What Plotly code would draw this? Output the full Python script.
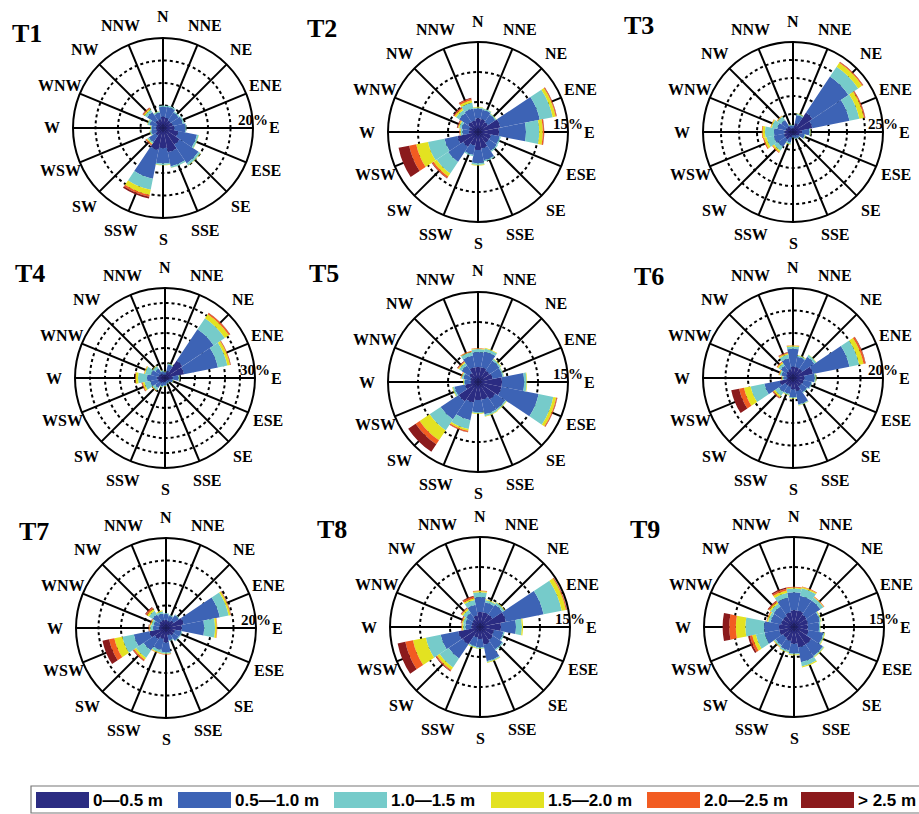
import math
import plotly.graph_objects as go

# ---------------- data ----------------
DIRECTIONS = ["N", "NNE", "NE", "ENE", "E", "ESE", "SE", "SSE",
              "S", "SSW", "SW", "WSW", "W", "WNW", "NW", "NNW"]
CLASSES = ["0\u20140.5 m", "0.5\u20141.0 m", "1.0\u20141.5 m",
           "1.5\u20142.0 m", "2.0\u20142.5 m", "> 2.5 m"]
COLORS = ["#2b2c82", "#3d63b5", "#76cbca", "#e3e221", "#f25c22", "#8b1a1c"]
PANELS = ["T1", "T2", "T3", "T4", "T5", "T6", "T7", "T8", "T9"]
MAX_PCT = [20, 15, 25, 30, 15, 20, 20, 15, 15]

# frequency (%) : one row per direction (N clockwise), one column per wave-height class
T1 = [
    [2.5, 2.2, 0.3, 0, 0, 0], [2.3, 2.5, 0.3, 0, 0, 0], [2.0, 2.2, 0.3, 0, 0, 0],
    [2.2, 2.3, 0.3, 0, 0, 0], [2.5, 2.5, 0.2, 0, 0, 0], [3.5, 4.2, 0.4, 0.05, 0, 0],
    [4.5, 5.0, 0.5, 0.1, 0, 0], [5.5, 3.2, 0.3, 0.05, 0, 0], [4.5, 3.4, 0.3, 0.1, 0, 0],
    [5.0, 6.5, 2.5, 1.2, 0.4, 0.4], [2.0, 1.8, 0.4, 0.2, 0.2, 0.1], [1.5, 1.2, 0.3, 0.1, 0, 0],
    [1.5, 1.0, 0.2, 0.1, 0, 0], [1.5, 1.5, 0.5, 0.1, 0, 0], [2.0, 2.3, 0.6, 0.3, 0.2, 0.1],
    [2.0, 1.5, 0.3, 0.05, 0, 0],
]
T2 = [
    [2.3, 1.6, 0.2, 0.1, 0, 0], [2.2, 1.6, 0.2, 0.05, 0, 0], [2.0, 1.5, 0.2, 0.05, 0, 0],
    [3.8, 6.7, 2.2, 0.5, 0.15, 0.05], [3.5, 4.5, 2.2, 0.6, 0.2, 0.05], [2.2, 1.5, 0.2, 0, 0, 0],
    [2.2, 1.6, 0.2, 0, 0, 0], [2.8, 2.0, 0.2, 0, 0, 0], [3.0, 2.2, 0.3, 0.1, 0, 0],
    [2.3, 1.6, 0.2, 0, 0, 0], [3.0, 3.0, 2.3, 0.6, 0.3, 0.1], [3.5, 2.2, 2.8, 2.0, 1.2, 1.8],
    [1.5, 1.1, 0.3, 0.1, 0.1, 0], [1.5, 1.3, 0.4, 0.2, 0.1, 0.1], [2.0, 1.8, 0.6, 0.3, 0.2, 0.1],
    [2.0, 2.0, 1.0, 0.4, 0.3, 0.1],
]
T3 = [
    [1.0, 0.7, 0.2, 0, 0, 0], [2.5, 2.3, 0.4, 0.1, 0, 0], [6.5, 12.0, 3.3, 1.3, 0.3, 0.1],
    [5.5, 10.5, 2.8, 1.3, 0.3, 0.1], [2.5, 2.0, 0.4, 0.1, 0, 0], [1.8, 1.5, 0.3, 0.1, 0, 0],
    [1.2, 0.9, 0.2, 0, 0, 0], [1.0, 0.8, 0.2, 0, 0, 0], [0.8, 0.6, 0.1, 0, 0, 0],
    [1.5, 1.5, 0.5, 0.2, 0, 0], [2.5, 2.5, 1.3, 0.5, 0.2, 0], [2.5, 3.0, 2.0, 0.7, 0.3, 0],
    [2.3, 3.0, 2.5, 0.7, 0.2, 0], [2.0, 2.5, 1.5, 0.3, 0.1, 0], [1.8, 2.2, 1.2, 0.2, 0.1, 0],
    [1.0, 0.9, 0.3, 0.1, 0, 0],
]
T4 = [
    [1.0, 0.9, 0.2, 0.1, 0, 0], [2.5, 2.0, 0.4, 0.1, 0, 0], [7.0, 12.5, 4.5, 1.6, 0.5, 0.1],
    [6.5, 11.5, 3.2, 0.9, 0.2, 0.1], [2.5, 2.0, 0.4, 0.1, 0, 0], [1.5, 1.2, 0.2, 0.1, 0, 0],
    [1.0, 0.8, 0.2, 0, 0, 0], [1.0, 0.8, 0.2, 0, 0, 0], [1.3, 1.1, 0.3, 0.1, 0, 0],
    [1.5, 1.3, 0.4, 0.1, 0, 0], [2.0, 2.0, 1.0, 0.2, 0.1, 0], [2.3, 2.7, 2.0, 0.6, 0.3, 0.1],
    [2.5, 3.5, 3.0, 0.8, 0.2, 0], [2.0, 2.8, 2.0, 0.3, 0.1, 0], [1.8, 2.0, 1.0, 0.2, 0, 0],
    [1.2, 1.1, 0.4, 0.1, 0, 0],
]
T5 = [
    [2.5, 2.5, 0.5, 0.1, 0.05, 0], [2.5, 2.7, 0.5, 0.1, 0, 0], [2.3, 2.0, 0.3, 0.1, 0, 0],
    [2.5, 1.7, 0.2, 0.05, 0, 0], [4.0, 3.7, 0.4, 0.1, 0, 0], [4.0, 6.3, 2.5, 0.5, 0.15, 0.05],
    [3.5, 2.0, 0.2, 0.1, 0, 0], [3.0, 2.5, 0.3, 0.1, 0, 0], [3.0, 2.0, 0.2, 0.1, 0, 0],
    [3.5, 3.0, 1.5, 0.3, 0.2, 0.05], [3.9, 3.6, 2.2, 2.0, 0.8, 1.5], [2.2, 1.8, 0.3, 0.1, 0, 0],
    [1.2, 1.0, 0.2, 0.1, 0, 0], [1.3, 1.2, 0.3, 0.1, 0.1, 0], [1.8, 1.5, 0.5, 0.2, 0.1, 0.1],
    [2.5, 2.0, 0.6, 0.1, 0.1, 0],
]
T6 = [
    [2.5, 4.0, 0.5, 0.2, 0.1, 0], [2.5, 2.3, 0.3, 0.1, 0, 0], [2.5, 3.2, 0.5, 0.1, 0, 0],
    [4.5, 8.3, 2.2, 1.0, 0.4, 0.1], [2.5, 2.3, 0.3, 0.1, 0, 0], [2.4, 1.8, 0.2, 0, 0, 0],
    [2.2, 1.6, 0.2, 0, 0, 0], [3.0, 3.0, 0.2, 0.1, 0, 0], [2.5, 1.8, 0.2, 0.1, 0, 0],
    [2.0, 1.6, 0.3, 0.1, 0, 0], [2.0, 1.8, 1.0, 0.4, 0.2, 0.1], [3.0, 3.5, 3.1, 1.5, 1.1, 1.8],
    [1.2, 0.9, 0.3, 0.1, 0.1, 0], [1.5, 1.1, 0.4, 0.2, 0.1, 0], [1.8, 1.5, 0.6, 0.3, 0.2, 0],
    [2.0, 2.5, 0.8, 0.3, 0.2, 0.1],
]
T7 = [
    [1.8, 1.3, 0.2, 0, 0, 0], [1.6, 1.2, 0.2, 0, 0, 0], [2.0, 1.5, 0.2, 0, 0, 0],
    [4.0, 8.2, 2.0, 0.4, 0.1, 0.05], [3.5, 5.0, 2.4, 0.4, 0.1, 0], [2.0, 1.5, 0.2, 0, 0, 0],
    [2.0, 1.4, 0.2, 0, 0, 0], [1.6, 1.2, 0.2, 0, 0, 0], [3.2, 2.2, 0.3, 0.1, 0.1, 0],
    [2.5, 2.5, 0.6, 0.2, 0.1, 0], [3.0, 3.0, 2.0, 0.5, 0.3, 0.1], [3.8, 3.5, 2.6, 1.8, 1.2, 1.5],
    [1.5, 1.4, 0.6, 0.2, 0.1, 0.1], [1.5, 1.3, 0.5, 0.2, 0.1, 0.1], [1.8, 1.8, 1.0, 0.5, 0.3, 0.2],
    [1.8, 1.5, 0.5, 0.2, 0, 0],
]
T8 = [
    [2.5, 2.5, 0.8, 0.2, 0.1, 0], [2.5, 1.7, 0.4, 0.1, 0, 0], [2.5, 2.0, 0.4, 0.1, 0, 0],
    [4.4, 6.4, 3.1, 0.7, 0.15, 0.05], [3.5, 2.5, 1.0, 0.2, 0, 0], [2.4, 1.6, 0.2, 0, 0, 0],
    [2.6, 1.9, 0.2, 0, 0, 0], [3.0, 2.8, 0.2, 0.1, 0, 0], [2.0, 1.4, 0.2, 0.05, 0, 0],
    [1.8, 1.5, 0.2, 0.1, 0, 0], [3.5, 2.8, 1.8, 0.5, 0.2, 0.1], [3.7, 3.0, 2.5, 2.2, 1.3, 1.3],
    [1.4, 1.0, 0.4, 0.2, 0.1, 0], [1.4, 1.1, 0.4, 0.2, 0.1, 0.1], [1.5, 1.3, 0.6, 0.3, 0.1, 0.1],
    [2.0, 1.8, 0.8, 0.3, 0.3, 0.1],
]
T9 = [
    [2.8, 3.0, 0.6, 0.2, 0.1, 0], [2.8, 2.5, 1.3, 0.2, 0.1, 0], [2.5, 2.8, 0.6, 0.1, 0.1, 0],
    [2.4, 2.0, 0.2, 0.1, 0, 0], [2.3, 1.9, 0.2, 0.05, 0, 0], [2.5, 2.5, 0.2, 0.1, 0, 0],
    [3.5, 2.3, 0.2, 0.1, 0, 0], [3.5, 2.5, 0.7, 0.2, 0, 0], [2.8, 1.6, 0.2, 0.1, 0, 0],
    [2.4, 1.6, 0.3, 0.1, 0, 0], [2.2, 1.5, 0.3, 0.1, 0.05, 0], [2.5, 2.5, 1.5, 0.6, 0.4, 0.3],
    [2.5, 2.5, 3.1, 1.6, 1.1, 1.1], [2.2, 1.8, 0.4, 0.2, 0.1, 0], [2.2, 1.9, 0.6, 0.3, 0.2, 0.1],
    [2.5, 2.5, 0.8, 0.4, 0.3, 0.2],
]
DATA = [T1, T2, T3, T4, T5, T6, T7, T8, T9]

# ---------------- layout geometry (pixels) ----------------
W, H = 919, 814
CENTERS = [(163, 128), (478, 132), (793, 132),
           (165, 378), (478, 382), (793, 378),
           (166, 628), (480, 627), (794, 627)]
RADIUS = 90
LABEL_RADIUS = 111
LABEL_POS = [(10, 34), (305, 29), (622, 26),
             (13, 274), (307, 273), (632, 276),
             (17, 531), (315, 529), (628, 529)]

SERIF = "Liberation Serif"
SANS = "Liberation Sans"

fig = go.Figure()
theta = [i * 22.5 for i in range(len(DIRECTIONS))]

layout_polars = {}
annotations = []
for p, (name, rows, vmax, (cx, cy)) in enumerate(zip(PANELS, DATA, MAX_PCT, CENTERS)):
    key = "polar" if p == 0 else f"polar{p + 1}"
    for k, cls in enumerate(CLASSES):
        fig.add_trace(go.Barpolar(
            r=[row[k] for row in rows], theta=theta, width=22.5,
            name=cls, marker=dict(color=COLORS[k], line=dict(width=0)),
            subplot=key, showlegend=False))
    ticks = list(range(5, vmax + 1, 5))
    layout_polars[key] = dict(
        domain=dict(x=[(cx - RADIUS) / W, (cx + RADIUS) / W],
                    y=[1 - (cy + RADIUS) / H, 1 - (cy - RADIUS) / H]),
        bgcolor="white",
        barmode="stack",
        angularaxis=dict(
            rotation=90, direction="clockwise",
            tickmode="array", tickvals=theta, ticktext=DIRECTIONS,
            showticklabels=False, ticks="",
            showgrid=True, gridcolor="black", gridwidth=1.5,
            showline=True, linecolor="black", linewidth=2,
        ),
        radialaxis=dict(
            range=[0, vmax], tickmode="array", tickvals=ticks,
            ticktext=[""] * (len(ticks) - 1) + [f"{vmax}%"],
            showline=False, showgrid=True, gridcolor="black", gridwidth=1.5,
            griddash="dot", angle=0, tickangle=0, side="counterclockwise",
            ticks="",
            tickfont=dict(family=SERIF, size=15, color="black", weight="bold"),
        ),
    )
    # compass direction labels around the rose
    for d, ang in zip(DIRECTIONS, theta):
        px = cx + LABEL_RADIUS * math.sin(math.radians(ang))
        py = cy - LABEL_RADIUS * math.cos(math.radians(ang))
        annotations.append(dict(
            text=d, x=px / W, y=1 - py / H, xref="paper", yref="paper",
            xanchor="center", yanchor="middle", showarrow=False,
            font=dict(family=SERIF, size=16, color="black", weight="bold")))
    lx, ly = LABEL_POS[p]
    annotations.append(dict(
        text=name, x=lx / W, y=1 - ly / H, xref="paper", yref="paper",
        xanchor="left", yanchor="middle", showarrow=False,
        font=dict(family=SERIF, size=26, color="black", weight="bold")))

# ---------------- legend (drawn manually) ----------------
SWATCH_X = [36, 178, 334, 491, 647, 801]
shapes = [dict(type="rect", xref="paper", yref="paper",
               x0=31 / W, x1=930 / W, y0=1 - 813 / H, y1=1 - 786 / H,
               line=dict(color="#777777", width=1.2), fillcolor="white")]
for k, cls in enumerate(CLASSES):
    x0 = SWATCH_X[k]
    shapes.append(dict(type="rect", xref="paper", yref="paper",
                       x0=x0 / W, x1=(x0 + 53) / W, y0=1 - 808 / H, y1=1 - 792 / H,
                       line=dict(width=0), fillcolor=COLORS[k]))
    annotations.append(dict(
        text=cls, x=(x0 + 55) / W, y=1 - 800 / H, xref="paper", yref="paper",
        xanchor="left", yanchor="middle", showarrow=False,
        font=dict(family=SANS, size=17, color="black", weight="bold")))

fig.update_layout(
    width=W, height=H, margin=dict(l=0, r=0, t=0, b=0),
    paper_bgcolor="white", plot_bgcolor="white",
    annotations=annotations, shapes=shapes, showlegend=False,
    **layout_polars)

fig.write_html("out.html")
